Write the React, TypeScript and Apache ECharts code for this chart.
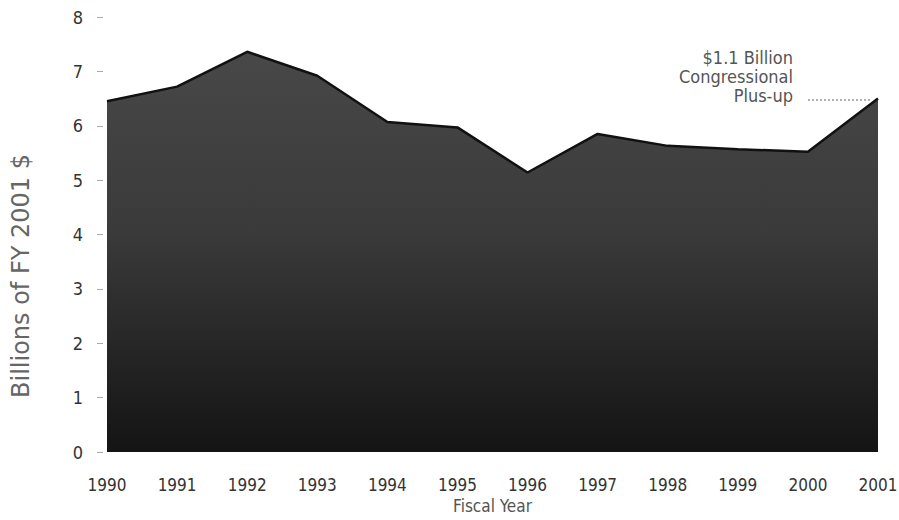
import React, { useEffect, useRef } from "react";
import * as echarts from "echarts";

const years = ["1990", "1991", "1992", "1993", "1994", "1995", "1996", "1997", "1998", "1999", "2000", "2001"];
const funding = [6.45, 6.72, 7.36, 6.92, 6.07, 5.97, 5.14, 5.85, 5.63, 5.57, 5.52, 6.5];
const yTicks = [0, 1, 2, 3, 4, 5, 6, 7, 8];
const annotationLines = ["$1.1 Billion", "Congressional", "Plus-up"];
const yTitle = "Billions of FY 2001 $";
const xTitle = "Fiscal Year";

const FONT = "'DejaVu Sans Condensed', 'DejaVu Sans', sans-serif";

export default function App() {
  const ref = useRef<HTMLDivElement>(null);
  useEffect(() => {
    if (!ref.current) return;
    const chart = echarts.init(ref.current, undefined, { renderer: "svg" });
    chart.setOption({
      animation: false,
      backgroundColor: "#ffffff",
      grid: { left: 107, right: 21, top: 17, bottom: 68, containLabel: false, outerBoundsMode: "none" },
      xAxis: {
        type: "category",
        data: years,
        boundaryGap: false,
        axisLine: { show: false },
        axisTick: { show: false },
        axisLabel: { color: "#333", fontFamily: FONT, fontSize: 17, margin: 24 },
        name: xTitle,
        nameLocation: "middle",
        nameGap: 42,
        nameTextStyle: { color: "#555", fontFamily: FONT, fontSize: 17 },
      },
      yAxis: {
        type: "value",
        min: yTicks[0],
        max: yTicks[yTicks.length - 1],
        interval: 1,
        offset: 4,
        axisLine: { show: false },
        axisTick: { show: true, length: 6, lineStyle: { color: "#aaa", width: 1 } },
        splitLine: { show: false },
        axisLabel: { color: "#333", fontFamily: FONT, fontSize: 18, margin: 20 },
      },
      series: [
        {
          type: "line",
          data: funding,
          symbol: "none",
          lineStyle: { color: "#111", width: 2.5 },
          areaStyle: {
            opacity: 1,
            color: {
              type: "linear",
              x: 0,
              y: 0,
              x2: 0,
              y2: 1,
              colorStops: [
                { offset: 0, color: "#484848" },
                { offset: 0.45, color: "#3a3a3a" },
                { offset: 1, color: "#141414" },
              ],
            },
          },
        },
      ],
      graphic: [
        {
          type: "text",
          x: 21,
          y: 276,
          rotation: Math.PI / 2,
          style: {
            text: yTitle,
            fill: "#666",
            font: "24px 'DejaVu Sans', sans-serif",
            textAlign: "center",
            textVerticalAlign: "middle",
          },
        },
        ...annotationLines.map((t, i) => ({
          type: "text",
          right: 899 - 793,
          top: 48 + i * 19,
          style: { text: t, fill: "#555", font: `18px ${FONT}`, textAlign: "right" },
        })),
        {
          type: "line",
          shape: { x1: 808, y1: 100, x2: 872, y2: 100 },
          style: { stroke: "#999", lineWidth: 1.5, lineDash: [2, 2] },
        },
      ],
    });
    return () => chart.dispose();
  }, []);
  return <div ref={ref} style={{ position: "absolute", left: 0, top: 0, width: 899, height: 520 }} />;
}
